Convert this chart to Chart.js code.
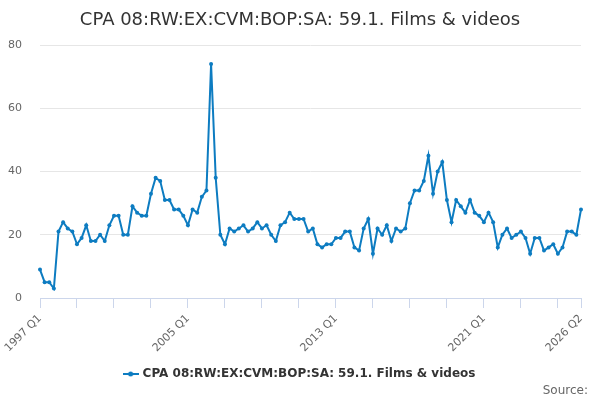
<!DOCTYPE html>
<html>
<head>
<meta charset="utf-8">
<script src="https://cdn.jsdelivr.net/npm/chart.js@4"></script>
<style>
  html, body { margin: 0; padding: 0; background: #fff; }
  #wrap { width: 600px; height: 400px; }
</style>
</head>
<body>
<div id="wrap"><canvas id="chart"></canvas></div>
<script>
// Quarterly series, 1997 Q1 .. 2026 Q2
const startYear = 1997;
const quarters = [];
for (let i = 0; i < 118; i++) {
    quarters.push((startYear + Math.floor(i / 4)) + ' Q' + (i % 4 + 1));
}

const values = [
    9, 5, 5, 3, 21, 24, 22, 21, 17, 19, 23, 18, 18, 20, 18, 23, 26, 26, 20, 20,
    29, 27, 26, 26, 33, 38, 37, 31, 31, 28, 28, 26, 23, 28, 27, 32, 34, 74, 38, 20,
    17, 22, 21, 22, 23, 21, 22, 24, 22, 23, 20, 18, 23, 24, 27, 25, 25, 25, 21, 22,
    17, 16, 17, 17, 19, 19, 21, 21, 16, 15, 22, 25, 14, 22, 20, 23, 18, 22, 21, 22,
    30, 34, 34, 37, 45, 33, 40, 43, 31, 24, 31, 29, 27, 31, 27, 26, 24, 27, 24, 16,
    20, 22, 19, 20, 21, 19, 14, 19, 19, 15, 16, 17, 14, 16, 21, 21, 20, 28
];

const yTicks = [0, 20, 40, 60, 80];
const seriesName = 'CPA 08:RW:EX:CVM:BOP:SA: 59.1. Films & videos';
const lineColor = '#0d7cc1';

// legend symbol: short line with a dot in the middle
const sym = document.createElement('canvas');
sym.width = 16; sym.height = 8;
const sctx = sym.getContext('2d');
sctx.strokeStyle = lineColor; sctx.lineWidth = 2;
sctx.beginPath(); sctx.moveTo(0, 4); sctx.lineTo(16, 4); sctx.stroke();
sctx.fillStyle = lineColor;
sctx.beginPath(); sctx.arc(8, 4, 2.5, 0, Math.PI * 2); sctx.fill();

const last = quarters.length - 1;

// "Source:" credit in the bottom right corner
const sourcePlugin = {
    id: 'sourceText',
    afterDraw(chart) {
        const ctx = chart.ctx;
        ctx.save();
        ctx.font = '12px "DejaVu Sans"';
        ctx.fillStyle = '#666666';
        ctx.textAlign = 'right';
        ctx.textBaseline = 'middle';
        ctx.fillText('Source:', 588, 391);
        ctx.restore();
    }
};

new Chart(document.getElementById('chart'), {
    type: 'line',
    data: {
        labels: quarters,
        datasets: [{
            label: seriesName,
            data: values,
            borderColor: lineColor,
            backgroundColor: lineColor,
            borderWidth: 2,
            pointRadius: 2,
            pointBackgroundColor: lineColor,
            pointBorderWidth: 0,
            tension: 0
        }]
    },
    plugins: [sourcePlugin],
    options: {
        responsive: true,
        maintainAspectRatio: false,
        animation: false,
        layout: { padding: { top: 0, right: 0, bottom: 10, left: 0 } },
        plugins: {
            title: {
                display: true,
                text: 'CPA 08:RW:EX:CVM:BOP:SA: 59.1. Films & videos',
                color: '#333333',
                font: { family: 'DejaVu Sans', size: 18, weight: 'normal' },
                padding: { top: 10, bottom: 13.5 }
            },
            legend: {
                position: 'bottom',
                labels: {
                    usePointStyle: true,
                    pointStyle: sym,
                    color: '#333333',
                    font: { family: 'DejaVu Sans', size: 12, weight: 'bold' },
                    padding: 4
                }
            },
            tooltip: { enabled: false }
        },
        scales: {
            x: {
                type: 'category',
                offset: false,
                afterFit: function(scale) { scale.height = 66; },
                border: { color: '#ccd6eb' },
                grid: {
                    drawOnChartArea: false,
                    color: '#ccd6eb',
                    tickLength: 10
                },
                ticks: {
                    autoSkip: false,
                    maxRotation: 45,
                    minRotation: 45,
                    color: '#666666',
                    font: { family: 'DejaVu Sans', size: 11 },
                    padding: 4,
                    callback: function(v, i) {
                        if (i % 32 === 0 || i === last) return this.getLabelForValue(v);
                        if (i % 8 === 0) return '';
                        return null;
                    }
                }
            },
            y: {
                min: 0,
                max: 80,
                afterBuildTicks: function(scale) {
                    scale.ticks = yTicks.map(v => ({ value: v }));
                },
                afterFit: function(scale) { scale.width = 40; },
                border: { display: false },
                grid: { color: '#e6e6e6', drawTicks: false },
                ticks: {
                    color: '#666666',
                    font: { family: 'DejaVu Sans', size: 11 },
                    padding: 18
                }
            },
            // empty right-hand axis, only keeps a margin on the right
            yRight: {
                position: 'right',
                display: true,
                afterFit: function(scale) { scale.width = 19; },
                border: { display: false },
                grid: { display: false },
                ticks: { display: false }
            }
        }
    }
});
</script>
</body>
</html>
